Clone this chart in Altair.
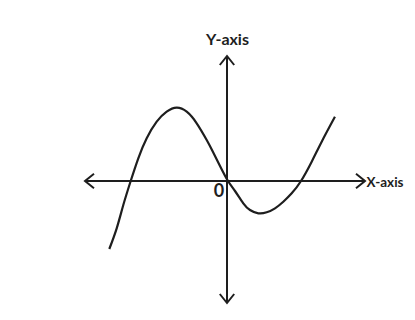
import altair as alt
import pandas as pd

# curve points (x right of origin, y above x-axis)
curve_x = [-11.77, -11.03, -10.37, -9.63, -8.87, -8.03, -7.03, -6.03, -5.03, -4.03,
           -3.03, -2.03, -1.45, -0.7, 0.1, 0.8, 1.63, 2.3, 3.13, 3.97, 4.8, 5.63,
           6.47, 7.4, 8.47, 9.47, 10.8]
curve_y = [-6.8, -4.73, -2.4, 0.0, 2.27, 4.27, 5.93, 6.93, 7.33, 6.93,
           5.77, 4.1, 3.0, 1.5, 0.0, -1.0, -2.23, -2.9, -3.23, -3.13, -2.73, -2.07,
           -1.23, 0.0, 1.93, 3.93, 6.43]

# axis segments
axis_x = [-14.2, 0.0]
axis_x2 = [13.8, 0.0]
axis_y = [0.0, 12.5]
axis_y2 = [0.0, -12.2]

# arrowheads
arrow_x = [13.8, -14.2, 0.0, 0.0]
arrow_y = [0.0, 0.0, 12.5, -12.2]
arrow_angle = [0, 180, 270, 90]

# labels
label_text = ["Y-axis", "X-axis", "0"]
label_x = [0.05, 13.95, -0.8]
label_y = [13.6, -0.55, -1.6]

INK = "#1e1e1e"
xs = alt.Scale(domain=[-21.9, 18.0], nice=False, zero=False)
ys = alt.Scale(domain=[-13.1, 17.3], nice=False, zero=False)

curve_df = pd.DataFrame({"x": curve_x, "y": curve_y, "o": range(len(curve_x))})
axis_df = pd.DataFrame({"x": axis_x, "x2": axis_x2, "y": axis_y, "y2": axis_y2})
arrow_df = pd.DataFrame({"x": arrow_x, "y": arrow_y, "a": arrow_angle})
label_df = pd.DataFrame({"t": label_text, "x": label_x, "y": label_y})

axes = alt.Chart(axis_df).mark_rule(color=INK, strokeWidth=2).encode(
    x=alt.X("x:Q", scale=xs, axis=None), x2="x2:Q",
    y=alt.Y("y:Q", scale=ys, axis=None), y2="y2:Q")

arrows = alt.Chart(arrow_df).mark_point(
    shape="M-1,-0.8L0,0L-1,0.8", size=324, filled=False,
    stroke=INK, strokeWidth=2, opacity=1).encode(
    x=alt.X("x:Q", scale=xs, axis=None),
    y=alt.Y("y:Q", scale=ys, axis=None),
    angle=alt.Angle("a:Q", scale=None))

curve = alt.Chart(curve_df).mark_line(
    color=INK, strokeWidth=2.2, interpolate="natural").encode(
    x=alt.X("x:Q", scale=xs, axis=None),
    y=alt.Y("y:Q", scale=ys, axis=None),
    order="o:Q")


def label(i, align, size):
    return alt.Chart(label_df.iloc[[i]]).mark_text(
        font="Lato", fontSize=size, fontWeight="bold", color=INK,
        align=align, baseline="alphabetic").encode(
        x=alt.X("x:Q", scale=xs, axis=None),
        y=alt.Y("y:Q", scale=ys, axis=None),
        text="t:N")


chart = alt.layer(
    axes, curve, arrows,
    label(0, "center", 16), label(1, "left", 13.5), label(2, "center", 18)
).properties(
    width=399, height=304, padding=0,
    autosize=alt.AutoSizeParams(type="none")
).configure(background="white", view=alt.ViewConfig(stroke=None))

chart.save("out.html", embed_options={"renderer": "svg", "actions": False})
